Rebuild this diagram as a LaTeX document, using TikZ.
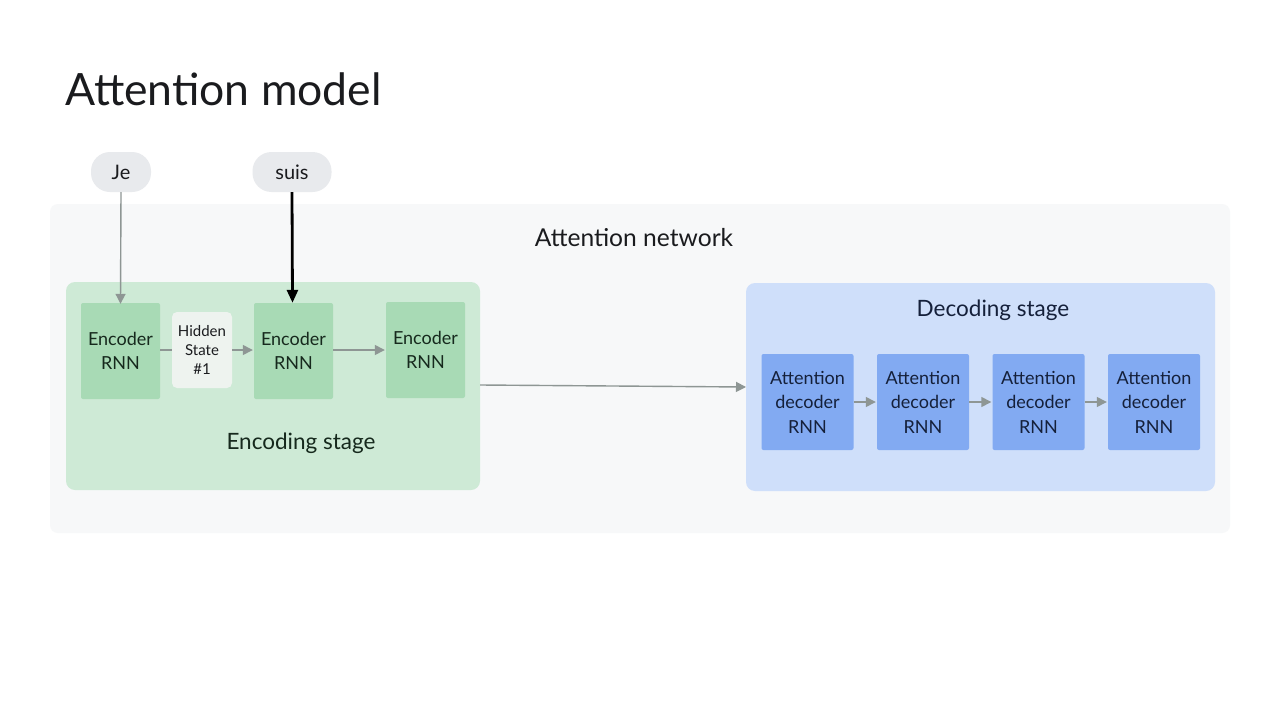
\documentclass[tikz,border=0pt]{standalone}
\usepackage{fontspec}
\setmainfont{Lato}
\usetikzlibrary{arrows.meta}
\definecolor{outerbg}{HTML}{F7F8F9}
\definecolor{encbg}{HTML}{CEEAD6}
\definecolor{encbox}{HTML}{A8DAB5}
\definecolor{hidbox}{HTML}{EEF3EF}
\definecolor{decbg}{HTML}{CFDFFA}
\definecolor{decbox}{HTML}{82AAF2}
\definecolor{pill}{HTML}{E8EAED}
\definecolor{txt}{HTML}{1A1B1E}
\definecolor{enctxt}{HTML}{16291D}
\definecolor{dectxt}{HTML}{15203A}
\definecolor{arr}{HTML}{8E9694}
\tikzset{
  encnode/.style={fill=encbox, rounded corners=2pt, minimum width=79pt, minimum height=96pt, align=center, font=\fontsize{18}{24.5}\selectfont, text=enctxt, inner sep=0pt},
  hidnode/.style={fill=hidbox, rounded corners=5pt, minimum width=60pt, minimum height=76pt, align=center, font=\fontsize{15}{19}\selectfont, text=txt, inner sep=0pt},
  decnode/.style={fill=decbox, rounded corners=2pt, minimum width=92pt, minimum height=96pt, align=center, font=\fontsize{18}{24.5}\selectfont, text=dectxt, inner sep=0pt},
  pillnode/.style={fill=pill, rounded corners=19pt, minimum height=40pt, inner sep=0pt, font=\fontsize{20}{22}\selectfont, text=txt},
  garrow/.style={draw=arr, line width=1.4pt, -{Triangle[length=10pt,width=10pt]}},
  gline/.style={draw=arr, line width=1.4pt},
  barrow/.style={draw=black, line width=2.8pt, -{Triangle[length=13pt,width=11pt]}},
}
\begin{document}
\begin{tikzpicture}[x=1pt,y=-1pt]
\useasboundingbox (0,0) rectangle (1280,720);
\fill[white] (0,0) rectangle (1280,720);
% title
\node[anchor=base west, inner sep=0pt, font=\fontsize{44.5}{50}\selectfont, text=txt] (title) at (65,105) {Attention model};
% outer attention network
\fill[outerbg, rounded corners=8pt] (50,204) rectangle (1230,533);
\node[font=\fontsize{24.6}{28}\selectfont, text=txt, inner sep=0pt] (netlbl) at (634,238) {Attention network};
% encoding stage
\fill[encbg, rounded corners=9pt] (66,282) rectangle (480,490);
\coordinate (encR) at (480,385);
\node[font=\fontsize{22.5}{26}\selectfont, text=enctxt, inner sep=0pt] (enclbl) at (301,443) {Encoding stage};
% decoding stage
\fill[decbg, rounded corners=9pt] (746,283) rectangle (1215,491);
\coordinate (decL) at (746,387);
\node[font=\fontsize{22.5}{26}\selectfont, text=dectxt, inner sep=0pt] (declbl) at (993,310) {Decoding stage};
% pills
\node[pillnode, minimum width=60pt] (je) at (121,172) {Je};
\node[pillnode, minimum width=79pt] (suis) at (292,172) {suis};
% encoders
\node[encnode] (e1) at (120.5,351) {Encoder\\RNN};
\node[hidnode] (h1) at (202,350) {Hidden\\State\\\#1};
\node[encnode] (e2) at (293.5,351) {Encoder\\RNN};
\node[encnode] (e3) at (425.5,350) {Encoder\\RNN};
% decoders
\node[decnode] (d1) at (807.5,402) {Attention\\decoder\\RNN};
\node[decnode] (d2) at (923,402) {Attention\\decoder\\RNN};
\node[decnode] (d3) at (1038.5,402) {Attention\\decoder\\RNN};
\node[decnode] (d4) at (1154,402) {Attention\\decoder\\RNN};
% connectors
\draw[garrow] (je.south) -- ([yshift=-1pt]e1.north);
\draw[barrow] (suis.south) -- ([xshift=-1pt]e2.north);
\draw[gline] (e1.east |- 0,350) -- (h1.west |- 0,350);
\draw[garrow] (h1.east |- 0,350) -- ([xshift=-1pt]e2.west |- 0,350);
\draw[garrow] (e2.east |- 0,350) -- ([xshift=-1pt]e3.west |- 0,350);
\draw[garrow] (encR) -- (decL);
\draw[garrow] (d1.east) -- ([xshift=-1pt]d2.west);
\draw[garrow] (d2.east) -- ([xshift=-1pt]d3.west);
\draw[garrow] (d3.east) -- ([xshift=-1pt]d4.west);
\end{tikzpicture}
\end{document}
